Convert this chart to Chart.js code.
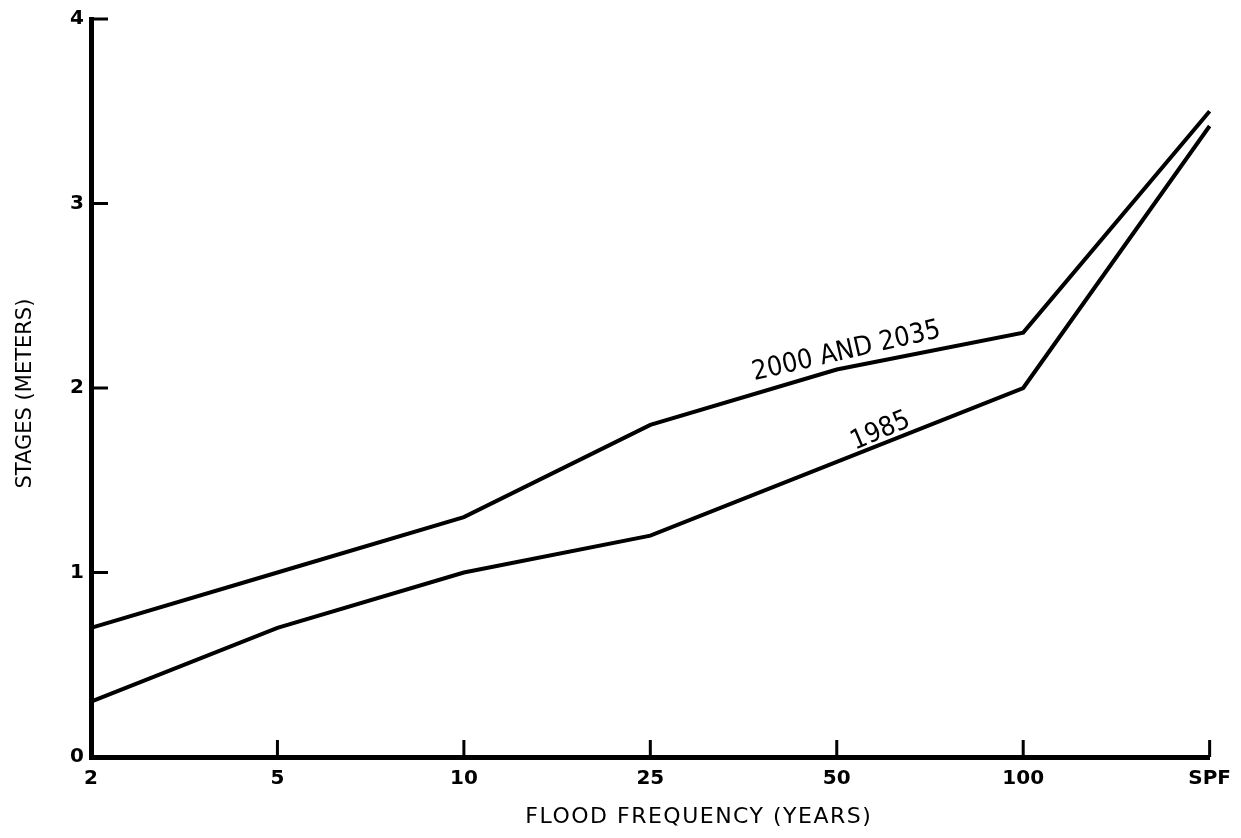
<!DOCTYPE html>
<html>
<head>
<meta charset="utf-8">
<script src="https://cdn.jsdelivr.net/npm/chart.js@4"></script>
<style>
  body { margin: 0; background: #fff; }
  canvas { display: block; }
</style>
</head>
<body>
<canvas id="myChart" width="1241" height="838"></canvas>
<script>
const frequencies = ["2", "5", "10", "25", "50", "100", "SPF"];
const stages2000 = [0.7, 1.0, 1.3, 1.8, 2.1, 2.3, 3.5];
const stages1985 = [0.3, 0.7, 1.0, 1.2, 1.6, 2.0, 3.42];
const yTicks = [0, 1, 2, 3, 4];

// line labels: [text, x index, y value, angle in degrees]
const lineLabels = [
  ["2000 AND 2035", 4.06, 2.16, -13],
  ["1985", 4.25, 1.73, -23],
];

const xTitle = "FLOOD FREQUENCY (YEARS)";
const yTitle = "STAGES (METERS)";

// short tick marks pointing into the plot, line labels, axis titles
const innerTicks = {
  id: "innerTicks",
  afterDraw(chart) {
    const ctx = chart.ctx;
    const x = chart.scales.x;
    const y = chart.scales.y;
    ctx.save();
    ctx.strokeStyle = "#000";
    ctx.lineWidth = 3;
    ctx.beginPath();
    frequencies.forEach((f, i) => {
      const px = x.getPixelForValue(i);
      ctx.moveTo(px, y.bottom);
      ctx.lineTo(px, y.bottom - 17);
    });
    yTicks.forEach((v) => {
      const py = y.getPixelForValue(v);
      ctx.moveTo(x.left, py);
      ctx.lineTo(x.left + 17, py);
    });
    ctx.stroke();

    ctx.fillStyle = "#000";
    ctx.font = "27px 'DejaVu Sans Condensed', 'DejaVu Sans'";
    ctx.textAlign = "center";
    ctx.textBaseline = "alphabetic";
    lineLabels.forEach(([text, xi, yv, ang]) => {
      ctx.save();
      ctx.translate(x.getPixelForValue(xi), y.getPixelForValue(yv));
      ctx.rotate((ang * Math.PI) / 180);
      ctx.fillText(text, 0, 0);
      ctx.restore();
    });

    // axis titles
    ctx.font = "22px 'DejaVu Sans'";
    ctx.letterSpacing = "1.5px";
    ctx.fillText(xTitle, x.getPixelForValue(3.26), chart.height - 15);

    ctx.save();
    ctx.font = "21px 'DejaVu Sans'";
    ctx.letterSpacing = "0px";
    ctx.translate(31, y.getPixelForValue(1.97));
    ctx.rotate(-Math.PI / 2);
    ctx.fillText(yTitle, 0, 0);
    ctx.restore();
    ctx.restore();
  },
};

const ctx = document.getElementById("myChart");
new Chart(ctx, {
  type: "line",
  data: {
    labels: frequencies,
    datasets: [
      {
        label: "2000 and 2035",
        data: stages2000,
        borderColor: "#000",
        borderWidth: 4,
        pointRadius: 0,
        tension: 0,
      },
      {
        label: "1985",
        data: stages1985,
        borderColor: "#000",
        borderWidth: 4,
        pointRadius: 0,
        tension: 0,
      },
    ],
  },
  options: {
    responsive: false,
    animation: false,
    layout: { padding: { top: 15, right: 28, left: 0, bottom: 0 } },
    plugins: { legend: { display: false }, tooltip: { enabled: false } },
    scales: {
      x: {
        offset: false,
        grid: { display: false, drawTicks: false },
        border: { color: "#000", width: 5 },
        ticks: {
          color: "#000",
          padding: 10,
          maxRotation: 0,
          font: { family: "'DejaVu Sans'", weight: "bold", size: 20 },
        },
        afterFit(scale) {
          scale.height = 81;
        },
      },
      y: {
        min: 0,
        max: 4,
        grid: { display: false, drawTicks: false },
        border: { color: "#000", width: 5 },
        ticks: {
          stepSize: 1,
          color: "#000",
          padding: 7,
          font: { family: "'DejaVu Sans'", weight: "bold", size: 20 },
        },
        afterFit(scale) {
          scale.width = 91;
        },
      },
    },
  },
  plugins: [innerTicks],
});
</script>
</body>
</html>
